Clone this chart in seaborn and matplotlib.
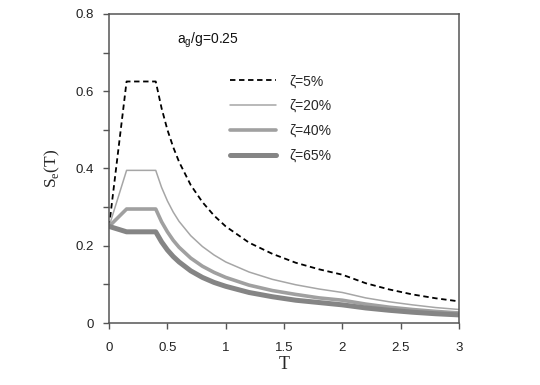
import numpy as np
import pandas as pd
import matplotlib
matplotlib.use("Agg")
import matplotlib.pyplot as plt
import seaborn as sns

# elastic response spectra, ag/g = 0.25
period = [0, 0.15, 0.4, 0.45, 0.5, 0.55, 0.6, 0.7, 0.8, 0.9, 1.0,
          1.2, 1.4, 1.6, 1.8, 2.0, 2.2, 2.4, 2.6, 2.8, 3.0]
se_05 = [0.25, 0.625, 0.625, 0.556, 0.5, 0.455, 0.417, 0.357, 0.313, 0.278, 0.25,
         0.208, 0.179, 0.156, 0.139, 0.125, 0.103, 0.087, 0.074, 0.064, 0.056]
se_20 = [0.25, 0.395, 0.395, 0.351, 0.316, 0.287, 0.263, 0.226, 0.198, 0.176, 0.158,
         0.132, 0.113, 0.099, 0.088, 0.079, 0.065, 0.055, 0.047, 0.040, 0.035]
se_40 = [0.25, 0.295, 0.295, 0.262, 0.236, 0.214, 0.196, 0.168, 0.147, 0.131, 0.118,
         0.098, 0.084, 0.074, 0.065, 0.059, 0.049, 0.041, 0.035, 0.030, 0.026]
se_65 = [0.25, 0.236, 0.236, 0.210, 0.189, 0.172, 0.158, 0.135, 0.118, 0.105, 0.095,
         0.079, 0.068, 0.059, 0.053, 0.047, 0.039, 0.033, 0.028, 0.024, 0.021]
labels = ["ζ=5%", "ζ=20%", "ζ=40%", "ζ=65%"]

sns.set_theme(style="white")
plt.rcParams["font.family"] = ["Liberation Sans", "DejaVu Sans"]

df = pd.DataFrame({"T": period * 4,
                   "Se": se_05 + se_20 + se_40 + se_65,
                   "damping": np.repeat(labels, len(period))})

fig = plt.figure(figsize=(5.4, 3.85), dpi=100)
ax = fig.add_axes([0.202, 0.161, 0.648, 0.803])

styles = {
    "ζ=5%": dict(color="black", lw=1.3, ls=(0, (3, 2))),
    "ζ=20%": dict(color="#a6a6a6", lw=1.1, ls="-"),
    "ζ=40%": dict(color="#a0a0a0", lw=2.6, ls="-"),
    "ζ=65%": dict(color="#858585", lw=3.6, ls="-"),
}
for lab in labels:
    sub = df[df["damping"] == lab]
    sns.lineplot(data=sub, x="T", y="Se", ax=ax, label=lab, **styles[lab])

ax.set_xlim(0, 3)
ax.set_ylim(0, 0.8)
ax.set_xticks([0, 0.5, 1, 1.5, 2, 2.5, 3])
ax.set_xticklabels(["0", "0.5", "1", "1.5", "2", "2.5", "3"])
ax.set_yticks([0, 0.2, 0.4, 0.6, 0.8])
ax.set_yticklabels(["0", "0.2", "0.4", "0.6", "0.8"])
ax.set_yticks(np.arange(0.1, 0.8, 0.2), minor=True)
ax.tick_params(which="both", direction="out", length=4, width=1, color="#555555",
               labelsize=9.5, labelcolor="#222222", left=True, bottom=True)
ax.tick_params(axis="x", pad=10)
ax.tick_params(axis="y", pad=7)
for sp in ax.spines.values():
    sp.set_color("#555555")
    sp.set_linewidth(1.1)

ax.set_xlabel("T", family="Liberation Serif", fontsize=13, labelpad=1)
ax.set_ylabel(r"S$_{\mathregular{e}}$(T)", family="Liberation Serif", fontsize=12.5, labelpad=10)

ax.text(0.195, 0.905, r"a$_{\mathregular{g}}$/g=0.25", transform=ax.transAxes,
        fontsize=10, color="#111111")

ax.legend(loc="upper left", bbox_to_anchor=(0.31, 0.845), frameon=False,
          fontsize=10, handlelength=3.3, handletextpad=1.0, labelspacing=0.78)

fig.savefig("out.png", dpi=100)
